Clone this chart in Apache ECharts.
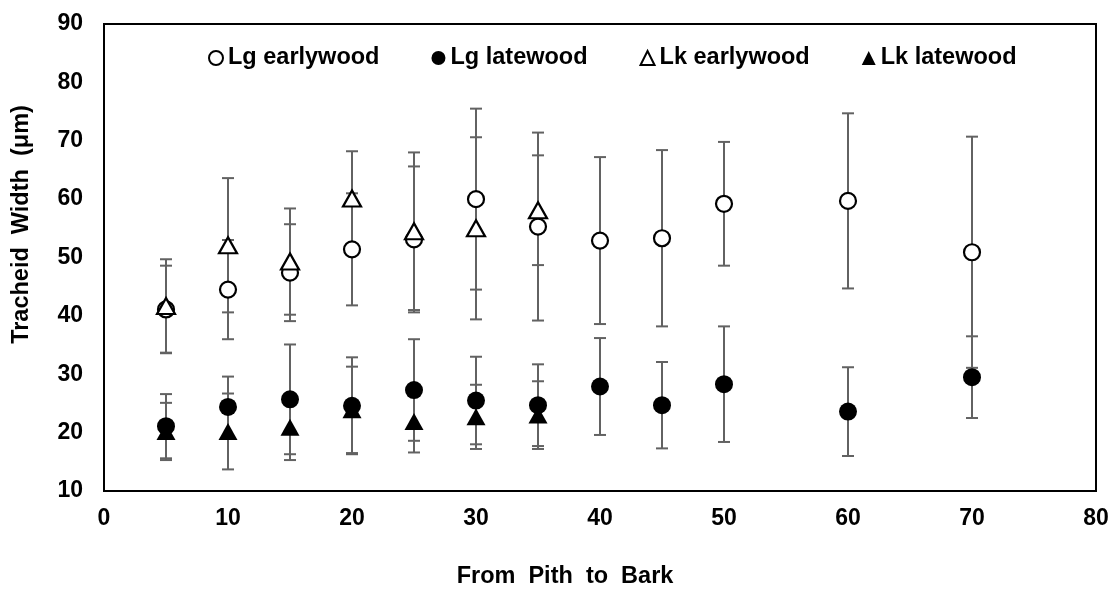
<!DOCTYPE html>
<html>
<head>
<meta charset="utf-8">
<script src="https://cdn.jsdelivr.net/npm/echarts@6/dist/echarts.min.js"></script>
<style>
    html, body { margin: 0; padding: 0; background: #fff; }
    #main { width: 1115px; height: 590px; }
</style>
</head>
<body>
<div id="main"></div>
<script>
// distance from pith (x) and tracheid width means / standard deviations
var lgX = [5, 10, 15, 20, 25, 30, 35, 40, 45, 50, 60, 70];
var lgEarly = [41.1, 44.5, 47.4, 51.4, 53.1, 60.0, 55.3, 52.9, 53.3, 59.2, 59.7, 50.9];
var lgEarlySd = [7.5, 8.5, 8.3, 9.6, 12.5, 15.5, 16.1, 14.3, 15.1, 10.6, 15.0, 19.8];
var lgLate = [21.1, 24.4, 25.7, 24.6, 27.3, 25.5, 24.7, 27.9, 24.7, 28.3, 23.6, 29.5];
var lgLateSd = [5.5, 5.2, 9.4, 8.3, 8.7, 7.5, 7.0, 8.3, 7.4, 9.9, 7.6, 7.0];

var lkX = [5, 10, 15, 20, 25, 30, 35];
var lkEarly = [41.7, 52.1, 49.3, 60.1, 54.5, 55.0, 58.1];
var lkEarlySd = [8.0, 11.5, 9.1, 8.1, 13.5, 15.6, 9.4];
var lkLate = [20.2, 20.2, 20.9, 23.9, 21.9, 22.7, 23.0];
var lkLateSd = [4.9, 6.5, 5.6, 7.4, 5.3, 5.5, 5.8];

var names = ['Lg earlywood', 'Lg latewood', 'Lk earlywood', 'Lk latewood'];

var font = 'Liberation Sans, Arial, sans-serif';

function points(xs, ys) {
    return xs.map(function (x, i) { return [x, ys[i]]; });
}
function bars(xs, ys, sd) {
    return xs.map(function (x, i) { return [x, ys[i] - sd[i], ys[i] + sd[i]]; });
}

function renderErr(params, api) {
    var lo = api.coord([api.value(0), api.value(1)]);
    var hi = api.coord([api.value(0), api.value(2)]);
    var w = 6;
    var st = { stroke: '#626262', lineWidth: 2 };
    return {
        type: 'group',
        children: [
            { type: 'line', shape: { x1: lo[0], y1: lo[1], x2: hi[0], y2: hi[1] }, style: st },
            { type: 'line', shape: { x1: lo[0] - w, y1: lo[1], x2: lo[0] + w, y2: lo[1] }, style: st },
            { type: 'line', shape: { x1: hi[0] - w, y1: hi[1], x2: hi[0] + w, y2: hi[1] }, style: st }
        ]
    };
}

function errSeries(data) {
    return {
        type: 'custom',
        renderItem: renderErr,
        encode: { x: 0, y: [1, 2] },
        data: data,
        silent: true
    };
}

function dotSeries(name, data, symbol, open) {
    var size;
    if (symbol == 'triangle') size = open ? [18, 16] : [19, 17];
    else size = open ? 16 : 18;
    return {
        name: name,
        type: 'scatter',
        symbol: symbol,
        symbolSize: size,
        data: data,
        itemStyle: {
            color: open ? '#ffffff' : '#000000',
            borderColor: '#000000',
            borderWidth: open ? 2.2 : 0,
            opacity: 1
        }
    };
}

var chart = echarts.init(document.getElementById('main'));
var option = {
    animation: false,
    backgroundColor: '#ffffff',
    grid: {
        left: 104,
        right: 19,
        top: 24,
        bottom: 99,
        containLabel: false,
        outerBoundsMode: 'none',
        show: true,
        borderColor: '#000000',
        borderWidth: 2
    },
    legend: {
        data: names,
        left: 203,
        top: 41,
        itemGap: 52,
        itemWidth: 14,
        itemHeight: 14,
        textStyle: { fontFamily: font, fontWeight: 'bold', fontSize: 23.5, color: '#000' }
    },
    xAxis: {
        type: 'value',
        min: 0,
        max: 80,
        interval: 10,
        name: 'From  Pith  to  Bark',
        nameLocation: 'middle',
        nameGap: 74,
        nameTextStyle: { fontFamily: font, fontWeight: 'bold', fontSize: 23.5, color: '#000', padding: [0, 70, 0, 0] },
        axisLine: { lineStyle: { color: '#000', width: 2 } },
        axisTick: { show: false },
        splitLine: { show: false },
        axisLabel: { margin: 16, fontFamily: font, fontWeight: 'bold', fontSize: 23, color: '#000' }
    },
    yAxis: {
        type: 'value',
        min: 10,
        max: 90,
        interval: 10,
        name: 'Tracheid  Width  (μm)',
        nameLocation: 'middle',
        nameGap: 70,
        nameTextStyle: { fontFamily: font, fontWeight: 'bold', fontSize: 23.5, color: '#000', padding: [0, 0, 0, 66] },
        axisLine: { show: true, lineStyle: { color: '#000', width: 2 } },
        axisTick: { show: false },
        splitLine: { show: false },
        axisLabel: { margin: 21, fontFamily: font, fontWeight: 'bold', fontSize: 23, color: '#000' }
    },
    series: [
        errSeries(bars(lgX, lgEarly, lgEarlySd)),
        dotSeries(names[0], points(lgX, lgEarly), 'circle', true),
        errSeries(bars(lgX, lgLate, lgLateSd)),
        dotSeries(names[1], points(lgX, lgLate), 'circle', false),
        errSeries(bars(lkX, lkEarly, lkEarlySd)),
        dotSeries(names[2], points(lkX, lkEarly), 'triangle', true),
        errSeries(bars(lkX, lkLate, lkLateSd)),
        dotSeries(names[3], points(lkX, lkLate), 'triangle', false)
    ]
};
chart.setOption(option);
</script>
</body>
</html>
